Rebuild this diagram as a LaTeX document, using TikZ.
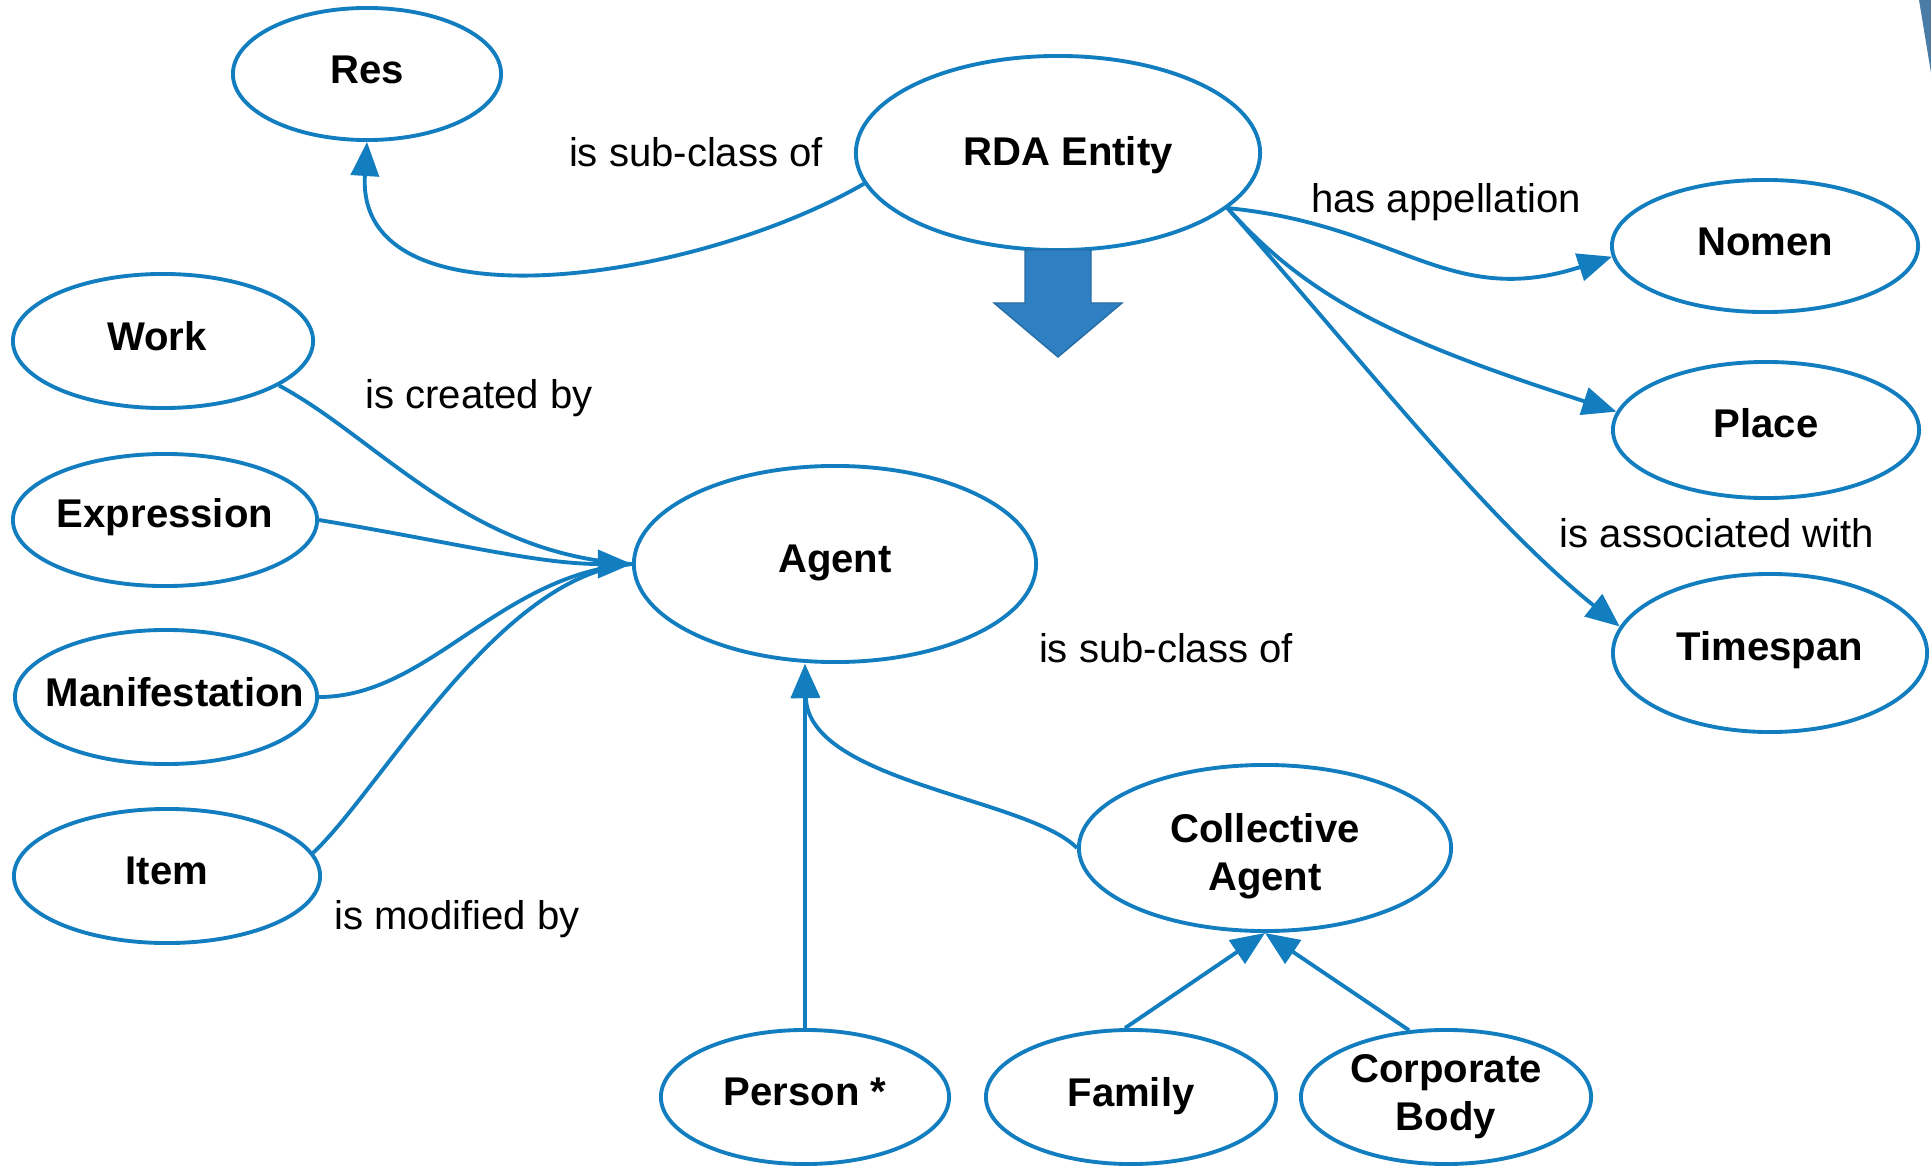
\documentclass[tikz,border=0pt]{standalone}
\usepackage{fontspec}
\setmainfont{Liberation Sans}
\usetikzlibrary{shapes.geometric,arrows.meta}
\definecolor{rdablue}{RGB}{18,126,191}
\definecolor{bigarrow}{RGB}{46,128,194}
\definecolor{cornerblue}{RGB}{74,124,166}
\newcommand{\ctr}[3][0.05cm]{\makebox[0pt]{\raisebox{#1}[\height][\depth]{\kern#2#3\kern-#2}}}

\begin{document}
\begin{tikzpicture}[x=0.01cm,y=-0.01cm,
  entity/.style={ellipse,draw=rdablue,line width=1.1pt,inner sep=0pt,align=center,
    font=\fontsize{11.4}{13.7}\selectfont\bfseries},
  rel/.style={font=\fontsize{11.4}{13.7}\selectfont},
  link/.style={draw=rdablue,line width=1.1pt},
  arr/.style={link,-{Triangle[length=0.34cm,width=0.28cm]}}]
  \useasboundingbox (0,0) rectangle (1931,1167);
  \fill[cornerblue] (1919,0) -- (1931,0) -- (1931,73) -- cycle;

  \node[entity,minimum width=2.68cm,minimum height=1.32cm] (res) at (367,74) {\ctr[0.04cm]{0pt}{Res}};
  \node[entity,minimum width=4.04cm,minimum height=1.94cm] (rda) at (1058,153) {\ctr[-0.02cm]{0.1cm}{RDA Entity}};
  \node[entity,minimum width=3.06cm,minimum height=1.32cm] (nomen) at (1765,246) {\ctr[0.04cm]{0pt}{Nomen}};
  \node[entity,minimum width=3.06cm,minimum height=1.36cm] (place) at (1766,430) {\ctr[0.07cm]{0pt}{Place}};
  \node[entity,minimum width=3.14cm,minimum height=1.58cm] (timespan) at (1770,653) {\ctr[0.025cm]{0pt}{Timespan}};
  \node[entity,minimum width=3.00cm,minimum height=1.34cm] (work) at (163,341) {\ctr{-0.06cm}{Work}};
  \node[entity,minimum width=3.04cm,minimum height=1.32cm] (expr) at (165,520) {\ctr[0.025cm]{0pt}{Expression}};
  \node[entity,minimum width=3.02cm,minimum height=1.34cm] (manif) at (166,697) {\ctr{0.09cm}{Manifestation}};
  \node[entity,minimum width=3.06cm,minimum height=1.34cm] (item) at (167,876) {\ctr{0pt}{Item}};
  \node[entity,minimum width=4.02cm,minimum height=1.96cm] (agent) at (835,564) {\ctr[0.01cm]{0pt}{Agent}};
  \node[entity,minimum width=3.72cm,minimum height=1.66cm] (collective) at (1265,848)
    {\ctr[-0.085cm]{0pt}{Collective}\\\ctr[-0.085cm]{0pt}{Agent}};
  \node[entity,minimum width=2.88cm,minimum height=1.34cm] (person) at (805,1097) {\ctr{0pt}{Person *}};
  \node[entity,minimum width=2.90cm,minimum height=1.34cm] (family) at (1131,1097) {\ctr[0.01cm]{0pt}{Family}};
  \node[entity,minimum width=2.90cm,minimum height=1.34cm] (corporate) at (1446,1097)
    {\ctr[0pt]{0pt}{Corporate}\\\ctr[0pt]{0pt}{Body}};

  \node[rel] (subres) at (696,152) {is sub-class of};
  \node[rel] (appel) at (1446,202) {has appellation};
  \node[rel] (created) at (479,398) {is created by};
  \node[rel] (assoc) at (1717,533) {is associated with};
  \node[rel] (subagent) at (1166,648) {is sub-class of};
  \node[rel] (modified) at (457,919) {is modified by};

  \filldraw[fill=bigarrow,draw=bigarrow!85!black,line width=0.4pt] (1025,250) -- (1091,250)
    -- (1091,303) -- (1122,303) -- (1058,357) -- (994,303) -- (1025,303) -- cycle;

  \draw[arr] (rda.189) .. controls +(-169,98) and +(-12,190) .. (res.south);
  \draw[arr] (rda.-18) .. controls +(172,17) and +(-163,53) .. (nomen.184);
  \draw[arr] (rda.-18) .. controls +(82,92) and +(-217,-70) .. (place.173);
  \draw[arr] (rda.-18) .. controls +(150,170) and +(-133,-107) .. (timespan.170);

  \draw[link] (work.-21) .. controls +(99,53) and +(-164,-9) .. (agent.west);
  \draw[link] (manif.east) .. controls +(110,0) and +(-134,11) .. (agent.west);
  \draw[link] (item.9) .. controls +(67,-62) and +(-134,11) .. (agent.west);
  \draw[arr] (expr.east) .. controls +(132,22) and +(-94,0) .. (agent.west);

  \coordinate (foot) at (person.north |- agent.south);
  \draw[arr] (person.north) -- (foot);
  \draw[arr] (collective.west) .. controls +(-49,-50) and +(3,118) .. (foot);
  \draw[arr] (family.95) -- (collective.south);
  \draw[arr] (corporate.119) -- (collective.south);
\end{tikzpicture}
\end{document}
